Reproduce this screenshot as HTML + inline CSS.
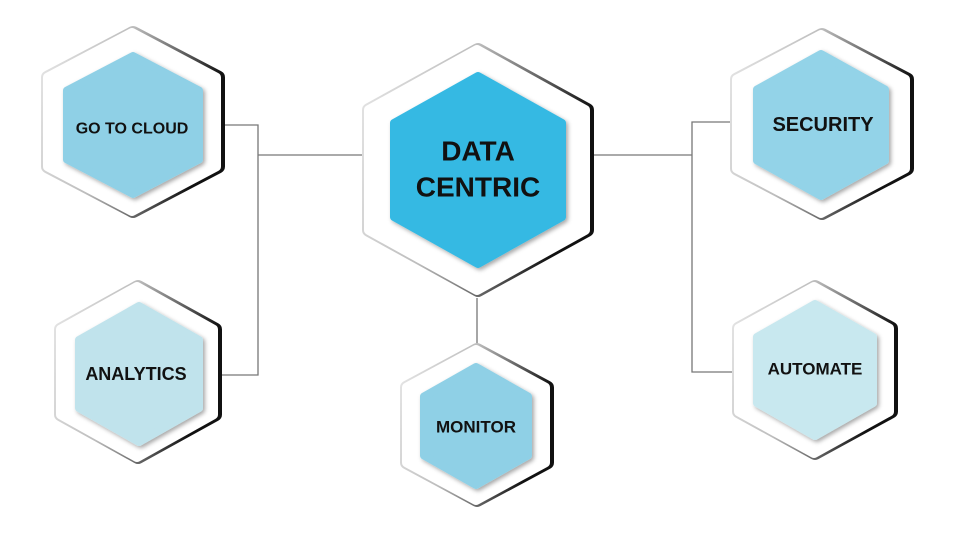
<!DOCTYPE html>
<html><head><meta charset="utf-8"><style>
html,body{margin:0;padding:0;background:#fff;width:978px;height:547px;overflow:hidden}
text{font-family:"Liberation Sans",Arial,sans-serif;font-weight:bold;fill:#111;text-anchor:middle;dominant-baseline:central}
.d{fill:url(#rim);stroke:url(#rim);stroke-width:14;stroke-linejoin:round}
.o{fill:#fff;stroke:#fff;stroke-width:10;stroke-linejoin:round}
.i{stroke-width:8;stroke-linejoin:round}
</style></head><body>
<svg width="978" height="547" viewBox="0 0 978 547">
<defs>
<filter id="sh" x="-20%" y="-20%" width="140%" height="140%"><feDropShadow dx="2" dy="2" stdDeviation="2" flood-color="#000" flood-opacity="0.35"/></filter>
<linearGradient id="rim" x1="0" y1="0" x2="1" y2="0.3">
<stop offset="0" stop-color="#e4e4e4"/><stop offset="0.45" stop-color="#bdbdbd"/><stop offset="0.8" stop-color="#555"/><stop offset="1" stop-color="#111"/>
</linearGradient>
</defs>
<g stroke="#777" stroke-width="1.3" fill="none">
<polyline points="218,125 258,125 258,375 218,375"/>
<line x1="258" y1="155" x2="363" y2="155"/>
<line x1="590" y1="155" x2="692" y2="155"/>
<polyline points="733,122 692,122 692,372 735,372"/>
<line x1="477" y1="298" x2="477" y2="345"/>
</g>
<!-- center -->
<polygon class="d" points="478,50 587,110 587,230 478,290 369,230 369,110"/>
<polygon class="o" points="477,50 585,110 585,230 477,290 369,230 369,110"/>
<polygon class="i" fill="#35b9e3" stroke="#35b9e3" filter="url(#sh)" points="478,76 562,123 562,217 478,264 394,217 394,123"/>
<!-- go to cloud -->
<polygon class="d" points="133,33 218,77.5 218,166.5 133,211 48,166.5 48,77.5"/>
<polygon class="o" points="132,33 216,77.5 216,166.5 132,211 48,166.5 48,77.5"/>
<polygon class="i" fill="#8fd0e6" stroke="#8fd0e6" filter="url(#sh)" points="133,56 199,90.5 199,159.5 133,194 67,159.5 67,90.5"/>
<!-- analytics -->
<polygon class="d" points="138,287 215,329.5 215,414.5 138,457 61,414.5 61,329.5"/>
<polygon class="o" points="137,287 213,329.5 213,414.5 137,457 61,414.5 61,329.5"/>
<polygon class="i" fill="#c0e3ec" stroke="#c0e3ec" filter="url(#sh)" points="139,306 199,340 199,408 139,442 79,408 79,340"/>
<!-- monitor -->
<polygon class="d" points="477,350 547,387.5 547,462.5 477,500 407,462.5 407,387.5"/>
<polygon class="o" points="476,350 545,387.5 545,462.5 476,500 407,462.5 407,387.5"/>
<polygon class="i" fill="#8fd0e6" stroke="#8fd0e6" filter="url(#sh)" points="476,367 528,396.5 528,455.5 476,485 424,455.5 424,396.5"/>
<!-- security -->
<polygon class="d" points="822,35 907,79.5 907,168.5 822,213 737,168.5 737,79.5"/>
<polygon class="o" points="821,35 905,79.5 905,168.5 821,213 737,168.5 737,79.5"/>
<polygon class="i" fill="#93d3e8" stroke="#93d3e8" filter="url(#sh)" points="821,54 885,89.5 885,160.5 821,196 757,160.5 757,89.5"/>
<!-- automate -->
<polygon class="d" points="815,287 891,328.5 891,411.5 815,453 739,411.5 739,328.5"/>
<polygon class="o" points="814,287 889,328.5 889,411.5 814,453 739,411.5 739,328.5"/>
<polygon class="i" fill="#c8e8ef" stroke="#c8e8ef" filter="url(#sh)" points="815,304 873,337 873,403 815,436 757,403 757,337"/>
<text x="478" y="151" font-size="28">DATA</text>
<text x="478" y="187" font-size="28">CENTRIC</text>
<text x="132" y="129" font-size="16">GO TO CLOUD</text>
<text x="136" y="374" font-size="18">ANALYTICS</text>
<text x="476" y="427" font-size="17">MONITOR</text>
<text x="823" y="125" font-size="20">SECURITY</text>
<text x="815" y="369" font-size="17">AUTOMATE</text>
</svg>
</body></html>
